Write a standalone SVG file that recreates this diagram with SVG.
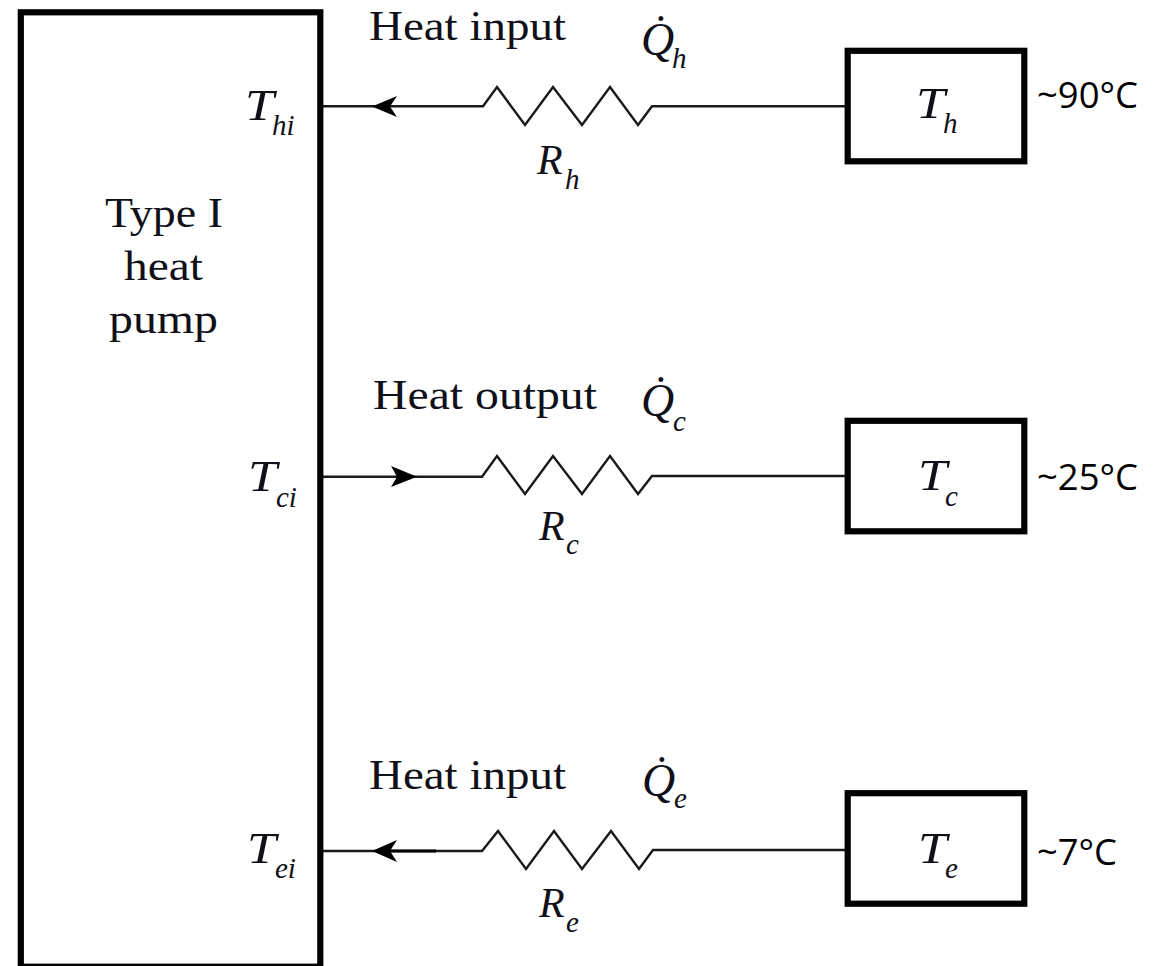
<svg xmlns="http://www.w3.org/2000/svg" width="1168" height="966" viewBox="0 0 1168 966">
<style>
.box{fill:#fff;stroke:#000;stroke-width:6.2}
.wire{fill:none;stroke:#1a1a1a;stroke-width:2.4;stroke-linejoin:miter}
.thick{fill:none;stroke:#000;stroke-width:3.2}
.head{fill:#000;stroke:none}
.t{font-family:"Liberation Serif","Times New Roman",serif;font-size:43px;fill:#101018}
.m{font-family:"Liberation Serif","Times New Roman",serif;font-style:italic;font-size:45px;fill:#101018}
.r{font-family:"Liberation Serif","Times New Roman",serif;font-style:italic;font-size:42px;fill:#101018}
.q{font-family:"Liberation Serif","Times New Roman",serif;font-style:italic;font-size:46px;fill:#101018}
.s{font-family:"Liberation Serif","Times New Roman",serif;font-style:italic;font-size:29px;fill:#101018}
.c{font-family:"Open Sans","Noto Sans",sans-serif;font-size:37px;fill:#000}
</style>
<rect width="1168" height="966" fill="#fff"/>
<g id="connectors">
<path class="wire" d="M323 106.300H483L497 87L525 125L553 87L582 125L610 87L638 125L652 106.300H846"/>
<path class="wire" d="M323 476.700H482L497 456L525 494L553 456L582 494L610 456L638 494L652 476H846"/>
<path class="wire" d="M323 851H482L498 831L526 869L554 831L582 869L611 831L639 869L653 850H846"/>
<path class="thick" d="M385 851H436"/>
<path class="head" d="M372 106.500L397 96L390 106.500L397 117Z"/>
<path class="head" d="M417 476.700L391 466L397 476.700L391 487Z"/>
<path class="head" d="M372 851L397 840L390 851L397 862Z"/>
</g>
<g id="pump">
<rect class="box" x="20.800" y="12.300" width="299.500" height="954.400"/>
<text class="t" x="105" y="227" textLength="118" lengthAdjust="spacingAndGlyphs">Type I</text>
<text class="t" x="124" y="280" textLength="79" lengthAdjust="spacingAndGlyphs">heat</text>
<text class="t" x="109" y="333" textLength="109" lengthAdjust="spacingAndGlyphs">pump</text>
<text class="m" x="245" y="120" textLength="29" lengthAdjust="spacingAndGlyphs">T</text><text class="s" x="272" y="135">hi</text>
<text class="m" x="248" y="491" textLength="29" lengthAdjust="spacingAndGlyphs">T</text><text class="s" x="276" y="507">ci</text>
<text class="m" x="247" y="863" textLength="29" lengthAdjust="spacingAndGlyphs">T</text><text class="s" x="275" y="878">ei</text>
</g>
<g id="source-h">
<rect class="box" x="847.700" y="50.800" width="176.600" height="110.500"/>
<text class="m" x="916" y="118" textLength="29" lengthAdjust="spacingAndGlyphs">T</text><text class="s" x="943" y="133">h</text>
<text class="c" x="1037" y="108" textLength="101" lengthAdjust="spacingAndGlyphs">~90°C</text>
</g>
<g id="source-c">
<rect class="box" x="847.700" y="420.800" width="176.600" height="110.500"/>
<text class="m" x="918" y="490" textLength="29" lengthAdjust="spacingAndGlyphs">T</text><text class="s" x="945" y="506">c</text>
<text class="c" x="1037" y="490" textLength="101" lengthAdjust="spacingAndGlyphs">~25°C</text>
</g>
<g id="source-e">
<rect class="box" x="847.700" y="793.200" width="176.600" height="110.500"/>
<text class="m" x="918" y="863" textLength="29" lengthAdjust="spacingAndGlyphs">T</text><text class="s" x="945" y="878">e</text>
<text class="c" x="1037" y="865" textLength="80" lengthAdjust="spacingAndGlyphs">~7°C</text>
</g>
<g id="label-h">
<text class="t" x="369" y="40" textLength="197" lengthAdjust="spacingAndGlyphs">Heat input</text>
<text class="q" x="641" y="55">Q̇</text><text class="s" x="672" y="68">h</text>
<text class="r" x="537" y="174">R</text><text class="s" x="565" y="189">h</text>
</g>
<g id="label-c">
<text class="t" x="373" y="409" textLength="224" lengthAdjust="spacingAndGlyphs">Heat output</text>
<text class="q" x="641" y="416">Q̇</text><text class="s" x="673" y="431">c</text>
<text class="r" x="539" y="540">R</text><text class="s" x="566" y="554">c</text>
</g>
<g id="label-e">
<text class="t" x="369" y="789" textLength="197" lengthAdjust="spacingAndGlyphs">Heat input</text>
<text class="q" x="642" y="796">Q̇</text><text class="s" x="674" y="808">e</text>
<text class="r" x="539" y="917">R</text><text class="s" x="566" y="932">e</text>
</g>
</svg>
